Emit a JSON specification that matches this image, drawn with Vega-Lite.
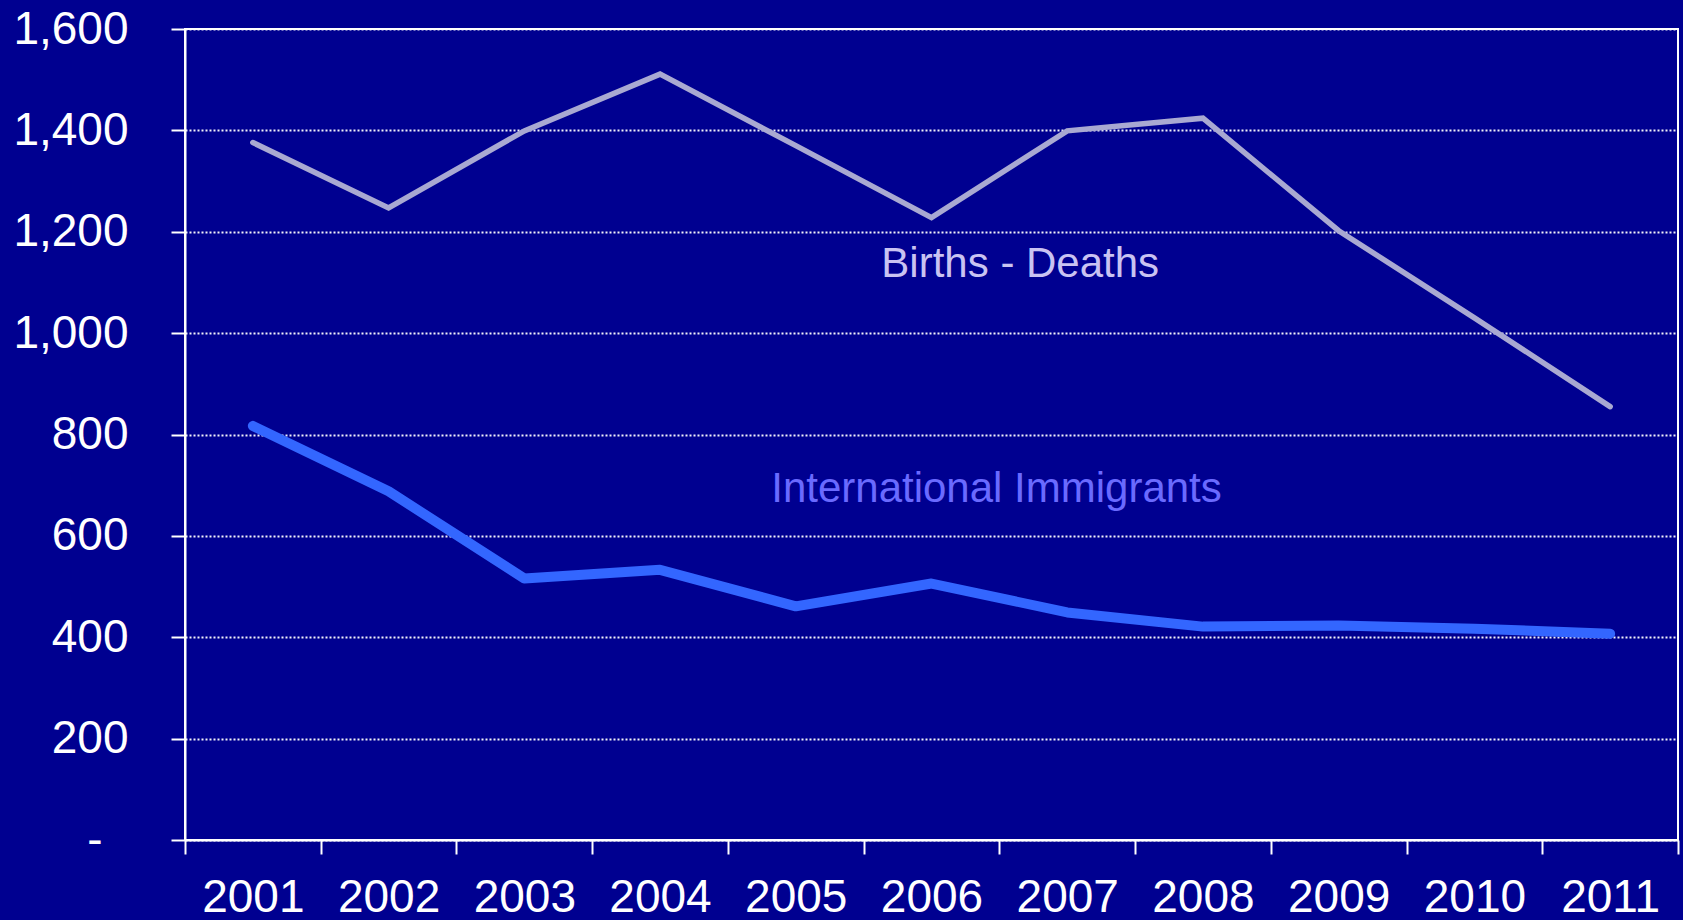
{
  "$schema": "https://vega.github.io/schema/vega-lite/v6.json",
  "autosize": {"type": "none"},
  "padding": {"left": 185, "top": 29, "right": 5, "bottom": 80},
  "width": 1493,
  "height": 811,
  "background": "#000090",
  "config": {
    "view": {"stroke": "white", "strokeWidth": 2},
    "font": "Liberation Sans"
  },
  "datasets": {
    "series": [
      {"year": "2001", "series": "Births - Deaths", "value": 1376},
      {"year": "2002", "series": "Births - Deaths", "value": 1247},
      {"year": "2003", "series": "Births - Deaths", "value": 1399},
      {"year": "2004", "series": "Births - Deaths", "value": 1511},
      {"year": "2005", "series": "Births - Deaths", "value": 1370},
      {"year": "2006", "series": "Births - Deaths", "value": 1228},
      {"year": "2007", "series": "Births - Deaths", "value": 1399},
      {"year": "2008", "series": "Births - Deaths", "value": 1424},
      {"year": "2009", "series": "Births - Deaths", "value": 1202},
      {"year": "2010", "series": "Births - Deaths", "value": 1030},
      {"year": "2011", "series": "Births - Deaths", "value": 855},
      {"year": "2001", "series": "International Immigrants", "value": 817},
      {"year": "2002", "series": "International Immigrants", "value": 688},
      {"year": "2003", "series": "International Immigrants", "value": 516},
      {"year": "2004", "series": "International Immigrants", "value": 533},
      {"year": "2005", "series": "International Immigrants", "value": 461},
      {"year": "2006", "series": "International Immigrants", "value": 506},
      {"year": "2007", "series": "International Immigrants", "value": 449},
      {"year": "2008", "series": "International Immigrants", "value": 421},
      {"year": "2009", "series": "International Immigrants", "value": 423},
      {"year": "2010", "series": "International Immigrants", "value": 417},
      {"year": "2011", "series": "International Immigrants", "value": 407}
    ],
    "labels": [
      {"year": "2007", "value": 1136, "label": "Births - Deaths"},
      {"year": "2006", "value": 692, "label": "International Immigrants"}
    ]
  },
  "encoding": {
    "x": {
      "field": "year",
      "type": "ordinal",
      "bandPosition": 0.5,
      "scale": {"type": "band", "paddingInner": 0, "paddingOuter": 0, "domain": ["2001","2002","2003","2004","2005","2006","2007","2008","2009","2010","2011"]},
      "axis": {
        "title": null,
        "labelAngle": 0,
        "tickBand": "extent",
        "domainColor": "white",
        "domainWidth": 2,
        "tickColor": "white",
        "tickWidth": 2,
        "tickSize": 14,
        "labelColor": "white",
        "labelFontSize": 46,
        "labelPadding": 21,
        "grid": false
      }
    },
    "y": {
      "field": "value",
      "type": "quantitative",
      "scale": {"domain": [0, 1600], "nice": false},
      "axis": {
        "title": null,
        "values": [0, 200, 400, 600, 800, 1000, 1200, 1400, 1600],
        "labelExpr": "datum.value == 0 ? '-' : format(datum.value, ',')",
        "domainColor": "white",
        "domainWidth": 2,
        "tickColor": "white",
        "tickWidth": 2,
        "tickSize": 14,
        "labelColor": "white",
        "labelFontSize": 46,
        "labelPadding": {"condition": {"test": "datum.value == 0", "value": 69}, "value": 43},
        "grid": true,
        "gridColor": "white",
        "gridDash": [2, 2],
        "gridWidth": 2,
        "gridOpacity": 0.95
      }
    }
  },
  "layer": [
    {
      "data": {"name": "series"},
      "transform": [{"filter": "datum.series == 'Births - Deaths'"}],
      "mark": {"type": "line", "color": "#a9a9d2", "strokeWidth": 5.5, "strokeCap": "round", "strokeJoin": "miter"}
    },
    {
      "data": {"name": "series"},
      "transform": [{"filter": "datum.series == 'International Immigrants'"}],
      "mark": {"type": "line", "color": "#3366ff", "strokeWidth": 10, "strokeCap": "round", "strokeJoin": "round"}
    },
    {
      "data": {"name": "labels"},
      "transform": [{"filter": "datum.label == 'Births - Deaths'"}],
      "mark": {"type": "text", "color": "#c9c3f2", "fontSize": 42, "baseline": "middle", "align": "center", "dx": -47},
      "encoding": {"text": {"field": "label"}}
    },
    {
      "data": {"name": "labels"},
      "transform": [{"filter": "datum.label == 'International Immigrants'"}],
      "mark": {"type": "text", "color": "#6a6aff", "fontSize": 42, "baseline": "middle", "align": "center", "dx": 65},
      "encoding": {"text": {"field": "label"}}
    }
  ]
}
